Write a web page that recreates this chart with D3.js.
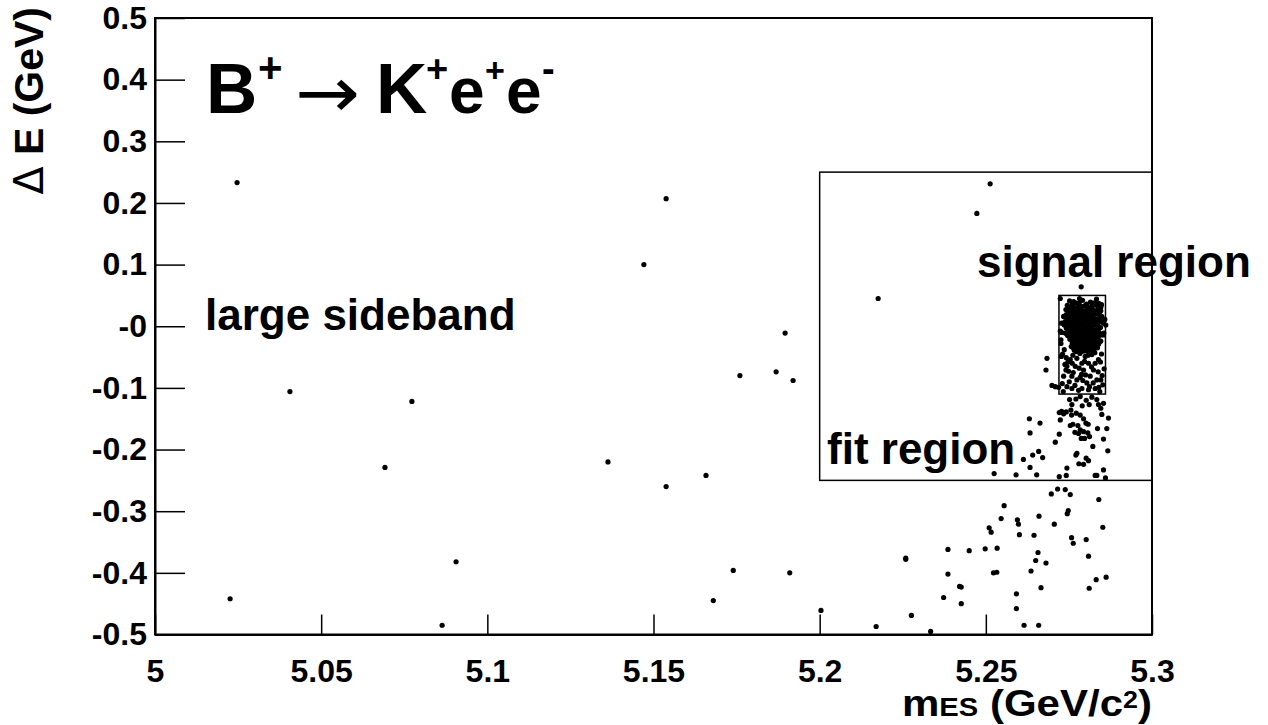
<!DOCTYPE html>
<html><head><meta charset="utf-8">
<script src="https://cdn.jsdelivr.net/npm/d3@7"></script>
<style>body{margin:0;background:#fff}svg{display:block}</style>
</head><body>
<script>
// ---------- data ----------
const xDomain = [5.0, 5.3];
const yDomain = [-0.5, 0.5];
const xTicks = [5.0, 5.05, 5.1, 5.15, 5.2, 5.25, 5.3];
const xTickLabels = ["5", "5.05", "5.1", "5.15", "5.2", "5.25", "5.3"];
const yTicks = [0.5, 0.4, 0.3, 0.2, 0.1, 0.0, -0.1, -0.2, -0.3, -0.4, -0.5];
const yTickLabels = ["0.5", "0.4", "0.3", "0.2", "0.1", "-0", "-0.1", "-0.2", "-0.3", "-0.4", "-0.5"];
const fitRegionX = [5.2, 5.3];
const fitRegionY = [-0.25, 0.25];
const signalRegionX = [5.272, 5.286];
const signalRegionY = [-0.11, 0.05];

// events: [mES, deltaE]
const sidebandEvents = [
 [5.0247,0.233],[5.0406,-0.106],[5.0773,-0.122],[5.0692,-0.229],[5.0226,-0.442],[5.0906,-0.382],
 [5.0864,-0.485],[5.1538,0.207],[5.1471,0.100],[5.1363,-0.220],[5.1538,-0.260],[5.1658,-0.242],
 [5.1760,-0.080],[5.1869,-0.074],[5.1896,-0.011],[5.1920,-0.088],[5.1740,-0.396],[5.1680,-0.445],
 [5.1910,-0.400],[5.2004,-0.461],[5.2170,-0.487],[5.2176,0.045],[5.2473,0.183],[5.2513,0.231]
];
const tailEvents = [
 [5.2555,-0.291],[5.2546,-0.312],[5.2595,-0.314],[5.2598,-0.321],[5.2510,-0.327],[5.2516,-0.334],
 [5.2601,-0.338],[5.2386,-0.362],[5.2450,-0.364],[5.2498,-0.361],[5.2534,-0.360],[5.2259,-0.376],
 [5.2259,-0.378],[5.2386,-0.402],[5.2523,-0.400],[5.2533,-0.399],[5.2421,-0.422],[5.2426,-0.423],
 [5.2373,-0.440],[5.2426,-0.450],[5.2592,-0.434],[5.2592,-0.458],[5.2276,-0.469],[5.2334,-0.495],
 [5.2697,-0.272],[5.2739,-0.265],[5.2754,-0.273],[5.2840,-0.281],[5.2748,-0.299],[5.2745,-0.304],
 [5.2660,-0.308],[5.2706,-0.321],[5.2852,-0.326],[5.2645,-0.339],[5.2758,-0.343],[5.2763,-0.352],
 [5.2802,-0.346],[5.2657,-0.367],[5.2650,-0.380],[5.2681,-0.384],[5.2809,-0.373],[5.2636,-0.397],
 [5.2862,-0.407],[5.2832,-0.411],[5.2666,-0.424],[5.2811,-0.425],[5.2615,-0.485],[5.2659,-0.485],
 [5.2716,-0.264]
];
const fitEvents = [
 [5.2525,-0.239],[5.2591,-0.241],[5.2653,-0.241],[5.2631,-0.150],[5.2663,-0.157],[5.2633,-0.173],
 [5.2613,-0.216],[5.2641,-0.209],[5.2659,-0.203],[5.2671,-0.213],[5.2633,-0.229],[5.2721,-0.244],
 [5.2742,-0.242],[5.2744,-0.230],[5.2709,-0.188],[5.2721,-0.175],[5.2774,-0.206],[5.2771,-0.209],
 [5.2780,-0.223],[5.2794,-0.224],[5.2802,-0.214],[5.2809,-0.218],[5.2829,-0.242],[5.2834,-0.242],
 [5.2854,-0.233],[5.2860,-0.246],[5.2822,-0.195],[5.2867,-0.202],[5.2854,-0.183],[5.2836,-0.166],
 [5.2849,-0.143],[5.2869,-0.149],[5.2864,-0.166],
 [5.2721,-0.140],[5.2734,-0.142],[5.2724,-0.152],[5.2742,-0.139],[5.2756,-0.136],[5.2758,-0.144],
 [5.2772,-0.141],[5.2784,-0.144],[5.2794,-0.150],[5.2801,-0.157],[5.2808,-0.159],[5.2754,-0.161],
 [5.2762,-0.159],[5.2777,-0.161],[5.2784,-0.168],[5.2794,-0.171],[5.2807,-0.173],[5.2812,-0.179],
 [5.2797,-0.182],[5.2787,-0.182],[5.2779,-0.174],[5.2768,-0.172],[5.2752,-0.119],[5.2759,-0.127],
 [5.2771,-0.118],[5.2784,-0.114],[5.2790,-0.129],[5.2802,-0.120],[5.2811,-0.127],[5.2819,-0.115],
 [5.2834,-0.119],[5.2839,-0.127],[5.2846,-0.133],[5.2854,-0.125],[5.2728,-0.138],
 [5.2684,-0.052],[5.2681,-0.071],[5.2699,-0.096],[5.2709,-0.098],[5.2719,-0.099],[5.2787,0.064]
];
const signalEvents = [
 [5.2752,0.041],[5.2770,0.038],[5.2791,0.042],[5.2815,0.039],[5.2840,0.037],
 [5.2745,0.034],[5.2761,0.032],[5.2779,0.035],[5.2797,0.033],[5.2812,0.030],[5.2829,0.035],[5.2846,0.031],
 [5.2741,0.027],[5.2755,0.029],[5.2768,0.026],[5.2783,0.028],[5.2799,0.025],[5.2808,0.029],[5.2822,0.027],[5.2838,0.024],
 [5.2748,0.021],[5.2760,0.023],[5.2773,0.020],[5.2786,0.022],[5.2795,0.019],[5.2811,0.023],[5.2826,0.020],[5.2843,0.018],
 [5.2738,0.015],[5.2752,0.017],[5.2765,0.014],[5.2777,0.016],[5.2790,0.013],[5.2803,0.017],[5.2817,0.015],[5.2831,0.012],[5.2849,0.016],
 [5.2744,0.009],[5.2757,0.011],[5.2769,0.008],[5.2781,0.010],[5.2794,0.007],[5.2806,0.011],[5.2820,0.009],[5.2836,0.006],
 [5.2749,0.003],[5.2762,0.005],[5.2774,0.002],[5.2786,0.004],[5.2799,0.001],[5.2811,0.005],[5.2824,0.003],[5.2840,0.000],
 [5.2742,-0.003],[5.2755,-0.001],[5.2767,-0.004],[5.2779,-0.002],[5.2790,-0.005],[5.2802,-0.001],[5.2815,-0.003],[5.2829,-0.006],[5.2845,-0.002],
 [5.2750,-0.009],[5.2763,-0.007],[5.2775,-0.010],[5.2786,-0.008],[5.2797,-0.011],[5.2809,-0.007],[5.2821,-0.009],[5.2834,-0.012],
 [5.2746,-0.015],[5.2758,-0.013],[5.2771,-0.016],[5.2783,-0.014],[5.2794,-0.017],[5.2806,-0.013],[5.2818,-0.015],[5.2831,-0.018],[5.2847,-0.014],
 [5.2753,-0.021],[5.2766,-0.019],[5.2778,-0.022],[5.2790,-0.020],[5.2801,-0.023],[5.2813,-0.019],[5.2826,-0.021],[5.2839,-0.024],
 [5.2760,-0.027],[5.2772,-0.025],[5.2785,-0.028],[5.2797,-0.026],[5.2808,-0.029],[5.2820,-0.025],[5.2833,-0.027],
 [5.2757,-0.033],[5.2769,-0.031],[5.2781,-0.034],[5.2793,-0.032],[5.2805,-0.035],[5.2817,-0.031],[5.2830,-0.033],
 [5.2766,-0.039],[5.2778,-0.037],[5.2790,-0.040],[5.2802,-0.038],[5.2814,-0.041],[5.2826,-0.037],
 [5.2761,0.037],[5.2781,0.038],[5.2803,0.036],[5.2827,0.038],
 [5.2752,0.031],[5.2770,0.030],[5.2788,0.032],[5.2805,0.031],[5.2820,0.033],[5.2837,0.030],
 [5.2748,0.025],[5.2762,0.026],[5.2776,0.024],[5.2791,0.025],[5.2804,0.023],[5.2815,0.026],[5.2830,0.024],[5.2846,0.025],
 [5.2742,0.019],[5.2754,0.020],[5.2767,0.018],[5.2780,0.019],[5.2791,0.021],[5.2803,0.019],[5.2818,0.018],[5.2834,0.020],
 [5.2745,0.013],[5.2758,0.014],[5.2771,0.012],[5.2784,0.013],[5.2797,0.014],[5.2810,0.012],[5.2824,0.013],[5.2840,0.012],
 [5.2738,0.007],[5.2751,0.006],[5.2763,0.008],[5.2775,0.006],[5.2788,0.007],[5.2800,0.008],[5.2813,0.006],[5.2828,0.007],[5.2846,0.008],
 [5.2743,0.001],[5.2756,0.002],[5.2768,0.000],[5.2780,0.001],[5.2793,0.002],[5.2805,0.000],[5.2818,0.001],[5.2832,0.002],
 [5.2748,-0.005],[5.2761,-0.004],[5.2773,-0.006],[5.2785,-0.005],[5.2796,-0.004],[5.2808,-0.006],[5.2822,-0.005],[5.2837,-0.004],
 [5.2741,-0.011],[5.2756,-0.012],[5.2769,-0.010],[5.2781,-0.011],[5.2792,-0.012],[5.2803,-0.010],[5.2815,-0.011],[5.2828,-0.012],[5.2841,-0.010],
 [5.2752,-0.017],[5.2764,-0.018],[5.2777,-0.016],[5.2789,-0.017],[5.2800,-0.018],[5.2812,-0.016],[5.2824,-0.017],[5.2838,-0.018],
 [5.2760,-0.023],[5.2772,-0.024],[5.2784,-0.022],[5.2796,-0.023],[5.2807,-0.024],[5.2819,-0.022],[5.2832,-0.023],[5.2846,-0.024],
 [5.2766,-0.029],[5.2778,-0.030],[5.2791,-0.028],[5.2802,-0.029],[5.2814,-0.030],[5.2826,-0.028],[5.2839,-0.029],
 [5.2763,-0.035],[5.2775,-0.036],[5.2787,-0.034],[5.2799,-0.035],[5.2811,-0.036],[5.2823,-0.034],[5.2836,-0.035],
 [5.2772,-0.041],[5.2784,-0.042],[5.2796,-0.040],[5.2808,-0.041],[5.2820,-0.042],
 [5.2724,0.045],[5.2782,0.045],[5.2833,0.044],[5.2848,0.035],[5.2724,-0.008],[5.2726,-0.022],
 [5.2854,0.005],[5.2854,-0.014],[5.2764,0.040],[5.2759,0.032],[5.2752,0.021],[5.2749,0.011],
 [5.2734,0.016],[5.2736,0.002],[5.2739,-0.011],[5.2728,0.005],[5.2728,-0.010],[5.2726,-0.028],
 [5.2727,-0.049],[5.2858,0.011],[5.2861,0.002],[5.2855,-0.011],[5.2843,-0.025],[5.2856,-0.069],
 [5.2846,-0.087],[5.2840,-0.099],
 [5.2744,-0.065],[5.2759,-0.081],[5.2774,-0.087],[5.2794,-0.071],[5.2804,-0.092],[5.2814,-0.081],
 [5.2824,-0.071],[5.2834,-0.087],[5.2744,-0.098],[5.2759,-0.101],[5.2789,-0.101],[5.2809,-0.103],
 [5.2829,-0.101],[5.2734,-0.081],[5.2749,-0.073],[5.2769,-0.065],[5.2789,-0.060],[5.2809,-0.060],
 [5.2829,-0.060],[5.2774,-0.052],[5.2754,-0.054],[5.2799,-0.049],[5.2819,-0.046],[5.2839,-0.054],
 [5.2736,-0.038],[5.2742,-0.051],[5.2838,-0.074],[5.2784,-0.083],[5.2751,-0.090],[5.2843,-0.106],
 [5.2733,-0.106],
 [5.2731,-0.045],[5.2747,-0.058],[5.2762,-0.047],[5.2783,-0.044],[5.2808,-0.047],[5.2828,-0.043],
 [5.2848,-0.045],[5.2741,-0.071],[5.2763,-0.075],[5.2781,-0.068],[5.2800,-0.079],[5.2818,-0.066],
 [5.2845,-0.058],[5.2730,-0.093],[5.2768,-0.096],[5.2792,-0.088],[5.2823,-0.092],[5.2850,-0.080],
 [5.2760,-0.060],[5.2797,-0.057],[5.2812,-0.098],[5.2779,-0.104],[5.2738,-0.062],[5.2852,-0.095],
 [5.2788,-0.078]
];

// ---------- drawing ----------
const W = 1268, H = 725;
const FONT = "'Liberation Sans', Arial, Helvetica, sans-serif";
const svg = d3.select("body").append("svg")
  .attr("width", W).attr("height", H)
  .style("font-family", FONT).style("font-weight", "bold");

const x = d3.scaleLinear().domain(xDomain).range([155, 1152]);
const y = d3.scaleLinear().domain(yDomain).range([634.5, 18]);

// frame
svg.append("rect")
  .attr("x", x(xDomain[0])).attr("y", y(yDomain[1]))
  .attr("width", x(xDomain[1]) - x(xDomain[0]))
  .attr("height", y(yDomain[0]) - y(yDomain[1]))
  .attr("fill", "none").attr("stroke", "#000").attr("stroke-width", 2);

// axes
const gx = svg.append("g")
  .attr("transform", `translate(0,${y(yDomain[0])})`)
  .call(d3.axisBottom(x).tickValues(xTicks).tickFormat((d, i) => xTickLabels[i])
        .tickSizeInner(-20).tickSizeOuter(0).tickPadding(25));
const gy = svg.append("g")
  .attr("transform", `translate(${x(xDomain[0])},0)`)
  .call(d3.axisLeft(y).tickValues(yTicks).tickFormat((d, i) => yTickLabels[i])
        .tickSizeInner(-30).tickSizeOuter(0).tickPadding(8));
[gx, gy].forEach(g => {
  g.attr("font-family", FONT).attr("font-size", 32).attr("font-weight", "bold");
  g.select(".domain").attr("stroke", "#000").attr("stroke-width", 2);
  g.selectAll(".tick line").attr("stroke", "#000").attr("stroke-width", 1.5);
  g.selectAll(".tick text").attr("fill", "#000");
});

// region boxes
function box(xs, ys) {
  svg.append("rect")
    .attr("x", x(xs[0])).attr("y", y(ys[1]))
    .attr("width", x(xs[1]) - x(xs[0]))
    .attr("height", y(ys[0]) - y(ys[1]))
    .attr("fill", "none").attr("stroke", "#000").attr("stroke-width", 1.5);
}
box(fitRegionX, fitRegionY);
box(signalRegionX, signalRegionY);

// events
const allEvents = [].concat(sidebandEvents, tailEvents, fitEvents, signalEvents);
svg.append("g").selectAll("circle").data(allEvents).join("circle")
  .attr("cx", d => x(d[0])).attr("cy", d => y(d[1])).attr("r", 2.6).attr("fill", "#000");

// labels
function label(txt, px, py, size) {
  svg.append("text").attr("x", px).attr("y", py).attr("font-size", size).attr("fill", "#000").text(txt);
}
label("large sideband", 205, 330, 44);
label("signal region", 977, 277, 44);
label("fit region", 827, 464, 44);

// title  B+ -> K+ e+ e-
const t = svg.append("text").attr("y", 113).attr("font-size", 71).attr("fill", "#000");
t.append("tspan").attr("x", 206).text("B");
t.append("tspan").attr("x", 258).attr("y", 82).attr("font-size", 42).text("+");
t.append("tspan").attr("x", 376).attr("y", 113).text("K");
t.append("tspan").attr("x", 426).attr("y", 82).attr("font-size", 38).text("+");
t.append("tspan").attr("x", 449).attr("y", 113).attr("font-size", 64).text("e");
t.append("tspan").attr("x", 485).attr("y", 82).attr("font-size", 34).text("+");
t.append("tspan").attr("x", 506).attr("y", 113).attr("font-size", 64).text("e");
t.append("tspan").attr("x", 542).attr("y", 82).attr("font-size", 38).text("-");
svg.append("text").attr("x", 295).attr("y", 117).attr("font-size", 71)
  .attr("font-family", "'DejaVu Sans', sans-serif").attr("font-weight", "normal")
  .attr("textLength", 65).attr("lengthAdjust", "spacingAndGlyphs").attr("fill", "#000").text("→");

// y axis title
const yt = svg.append("text").attr("transform", "translate(43,7) rotate(-90)")
  .attr("text-anchor", "end").attr("font-size", 41).attr("fill", "#000");
yt.append("tspan").attr("font-family", "'DejaVu Sans', sans-serif").attr("font-weight", "normal").text("Δ");
yt.append("tspan").text(" E (GeV)");

// x axis title
const xt = svg.append("text").attr("x", 1152).attr("y", 716)
  .attr("text-anchor", "end").attr("font-size", 36).attr("fill", "#000");
xt.append("tspan").text("m");
xt.append("tspan").attr("font-size", 25).text("ES");
xt.append("tspan").text(" (GeV/c");
xt.append("tspan").attr("font-size", 23).attr("dy", -8).text("2");
xt.append("tspan").attr("dy", 8).text(")");
xt.attr("textLength", 250).attr("lengthAdjust", "spacingAndGlyphs");
</script>
</body></html>
